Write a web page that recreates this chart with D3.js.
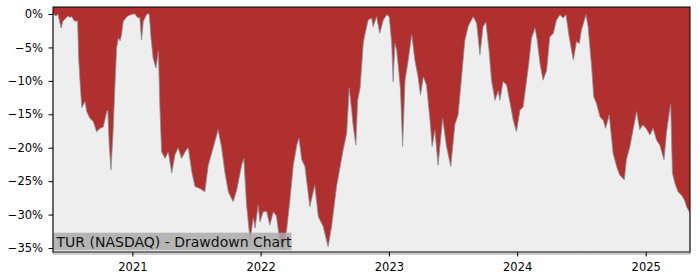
<!DOCTYPE html>
<html>
<head>
<meta charset="utf-8">
<script src="https://cdn.jsdelivr.net/npm/d3@7"></script>
<style>
  body { margin: 0; background: #fff; }
  text { font-family: "DejaVu Sans", sans-serif; }
</style>
</head>
<body>
<div id="chart"></div>
<script>
// drawdown values (percent below previous peak)
var dates = [
  "2020-05-20","2020-05-29","2020-06-03","2020-06-12","2020-06-17","2020-06-26","2020-07-02","2020-07-07",
  "2020-07-13","2020-07-19","2020-07-24","2020-07-29","2020-08-01","2020-08-06","2020-08-10","2020-08-19",
  "2020-08-24","2020-09-02","2020-09-12","2020-09-21","2020-10-01","2020-10-10","2020-10-20","2020-10-23",
  "2020-10-27","2020-11-01","2020-11-07","2020-11-12","2020-11-17","2020-11-22","2020-11-27","2020-12-01",
  "2020-12-06","2020-12-16","2020-12-25",
  "2021-01-03","2021-01-08","2021-01-17","2021-01-22","2021-01-27","2021-02-01","2021-02-11","2021-02-18",
  "2021-02-23","2021-03-01","2021-03-09","2021-03-16","2021-03-20","2021-03-25","2021-04-04","2021-04-13",
  "2021-04-23","2021-05-02","2021-05-11","2021-05-21","2021-05-31","2021-06-09","2021-06-19","2021-06-28",
  "2021-07-12","2021-07-26","2021-08-05","2021-08-19","2021-09-02","2021-09-12","2021-09-21","2021-10-01",
  "2021-10-15","2021-10-25","2021-11-08","2021-11-14","2021-11-22","2021-12-02","2021-12-11","2021-12-16",
  "2021-12-25","2021-12-30",
  "2022-01-08","2022-01-18","2022-01-27","2022-02-06","2022-02-15","2022-02-25","2022-03-06","2022-03-16",
  "2022-03-25","2022-04-04","2022-04-14","2022-04-20","2022-04-28","2022-05-07","2022-05-21","2022-06-04",
  "2022-06-14","2022-06-28","2022-07-12","2022-07-22","2022-08-05","2022-08-24","2022-09-03","2022-09-10",
  "2022-09-17","2022-09-21","2022-09-29","2022-10-04","2022-10-11","2022-10-20","2022-10-25","2022-11-03",
  "2022-11-13","2022-11-17","2022-11-27","2022-12-06","2022-12-16","2022-12-26",
  "2023-01-02","2023-01-09","2023-01-13","2023-01-18","2023-01-23","2023-01-28","2023-02-03","2023-02-09",
  "2023-02-16","2023-02-25","2023-03-07","2023-03-16","2023-03-25","2023-04-01","2023-04-09","2023-04-18",
  "2023-04-28","2023-05-04","2023-05-12","2023-05-21","2023-06-03","2023-06-14","2023-06-26","2023-07-08",
  "2023-07-17","2023-07-27","2023-08-05","2023-08-15","2023-08-29","2023-09-08","2023-09-17","2023-09-26",
  "2023-10-04","2023-10-13","2023-10-20","2023-10-30","2023-11-08","2023-11-13","2023-11-22","2023-12-02",
  "2023-12-11","2023-12-21","2023-12-30",
  "2024-01-09","2024-01-18","2024-02-02","2024-02-11","2024-02-21","2024-02-27","2024-03-06","2024-03-15",
  "2024-03-25","2024-04-03","2024-04-13","2024-04-22","2024-05-02","2024-05-11","2024-05-19","2024-05-28",
  "2024-06-09","2024-06-18","2024-06-26","2024-07-02","2024-07-15","2024-07-21","2024-07-31","2024-08-06",
  "2024-08-14","2024-08-24","2024-09-02","2024-09-09","2024-09-19","2024-09-30","2024-10-10","2024-10-19",
  "2024-11-01","2024-11-07","2024-11-17","2024-11-26","2024-12-06","2024-12-15","2024-12-23",
  "2025-01-02","2025-01-13","2025-01-22","2025-02-01","2025-02-10","2025-02-22","2025-03-01","2025-03-09",
  "2025-03-13","2025-03-18","2025-03-25","2025-04-03","2025-04-13","2025-04-22","2025-04-27","2025-05-07"
];
var drawdown = [
  0, -0.3, 0, -2.1, -1.1, -0.6, -0.3, -0.5,
  -0.4, -1.0, -1.1, -1.0, -6.6, -11, -14, -13.1,
  -14.6, -15.6, -16.1, -17.6, -17.1, -16.9, -14.6, -14.4,
  -19.6, -23.3, -17.6, -11.1, -5.1, -3.6, -4.0, -3.1,
  -1.1, -0.4, -0.15,
  0, 0, -0.6, -0.5, -3.9, -1.1, 0, 0,
  -3.6, -6.6, -8.1, -5.6, -13.6, -20.6, -21.6, -20.6,
  -23.8, -21.1, -20, -21.6, -20.6, -20, -23.6, -25.8,
  -26.1, -26.6, -22.6, -20, -17.3, -20, -23.6, -26.6,
  -28.1, -26.3, -22.6, -21.6, -28.6, -33.8, -30.5, -32,
  -28.6, -31.1,
  -29.6, -29.5, -31.6, -29.6, -30.2, -34.2, -35.3, -32.3,
  -28, -22.6, -19.6, -18.6, -21.8, -22.8, -28.8, -25.6,
  -30.3, -31.8, -34.8, -31.8, -25.8, -20.3, -17.8, -11.1,
  -14.4, -16.6, -19.6, -12.9, -11.1, -4.4, -3, -0.9,
  -0.6, -1.9, -0.4, -2.9, -0.9, -0.1,
  -0.4, -4.4, -10.1, -4.4, -5.4, -7.9, -11.4, -19.8,
  -9.9, -6.9, -3.1, -6.9, -9.4, -12.1, -9.4, -10.6,
  -15.9, -19.8, -17.4, -22.6, -15.6, -19.8, -22.8, -16.5,
  -15.1, -9.4, -4, -1.8, -0.4, -1.4, -6.1, -1.9,
  -1.2, -5.4, -9.9, -12.9, -11.5, -12.9, -10.1, -10.6,
  -13.1, -15.9, -17.6,
  -14.4, -13.9, -7.9, -3.6, -2.1, -3.9, -7.4, -9.9,
  -8.4, -3.4, -2.9, -0.9, -0.1, -0.6, -0.1, -3.4,
  -6.9, -4.1, -4.4, -2.4, -0.1, -1.9, -7.9, -12.4,
  -13.4, -15.4, -15.9, -17.1, -15.1, -20.8, -22.8, -24.1,
  -24.8, -21.8, -19.8, -17.3, -14.6, -17.3, -16.6,
  -17.1, -18.1, -17.1, -18.9, -19.6, -21.8, -17.8, -14.8,
  -13.5, -23.8, -25.3, -26.6, -27.1, -27.9, -28.8, -29.8
];
var yTicks = [0, -5, -10, -15, -20, -25, -30, -35];
var xTickYears = [2021, 2022, 2023, 2024, 2025];
var title = "TUR (NASDAQ) - Drawdown Chart";

var margin = { top: 7, right: 10, bottom: 28, left: 53 },
    width = 690 - margin.left,
    height = 252 - margin.top;

var parseDate = d3.timeParse("%Y-%m-%d");
var data = dates.map(function (d, i) { return { date: parseDate(d), value: drawdown[i] }; });

var svg = d3.select("#chart")
    .append("svg")
    .attr("width", 700)
    .attr("height", 280)
    .append("g")
    .attr("transform", "translate(" + margin.left + "," + margin.top + ")");

var x = d3.scaleTime()
    .domain(d3.extent(data, function (d) { return d.date; }))
    .range([0, width]);
var y = d3.scaleLinear()
    .domain([-35.6, 1.05])
    .range([height, 0]);

// red behind, grey area under the curve
svg.append("rect")
    .attr("width", width)
    .attr("height", height)
    .attr("fill", "#b03030");

svg.append("path")
    .datum(data)
    .attr("fill", "#eeeeee")
    .attr("stroke", "#8a8f94")
    .attr("stroke-width", 0.8)
    .attr("d", d3.area()
        .x(function (d) { return x(d.date); })
        .y0(height + 2)
        .y1(function (d) { return y(d.value); }));

// label box
var label = svg.append("g");
label.append("rect")
    .attr("x", 0)
    .attr("y", 225.7)
    .attr("width", 238.5)
    .attr("height", 17.5)
    .attr("fill", "#aaaaaa")
    .attr("opacity", 0.85);
label.append("text")
    .attr("x", 3.5)
    .attr("y", 239.6)
    .attr("font-size", "14px")
    .attr("fill", "#111")
    .text(title);

// axes
var fmt = function (v) { return (v < 0 ? "\u2212" + Math.abs(v) : v) + "%"; };
svg.append("g")
    .call(d3.axisLeft(y).tickValues(yTicks).tickFormat(fmt).tickSize(4.5).tickPadding(5.5))
    .call(function (g) { g.select(".domain").remove(); })
    .selectAll("text").attr("font-size", "11.5px").attr("fill", "#000");
svg.append("g")
    .attr("transform", "translate(0," + height + ")")
    .call(d3.axisBottom(x)
        .tickValues(xTickYears.map(function (yr) { return new Date(yr, 0, 1); }))
        .tickFormat(d3.timeFormat("%Y")).tickSize(4.5).tickPadding(6))
    .call(function (g) { g.select(".domain").remove(); })
    .selectAll("text").attr("font-size", "11.5px").attr("fill", "#000");

svg.append("rect")
    .attr("width", width)
    .attr("height", height)
    .attr("fill", "none")
    .attr("stroke", "#000")
    .attr("stroke-width", 1);
</script>
</body>
</html>
